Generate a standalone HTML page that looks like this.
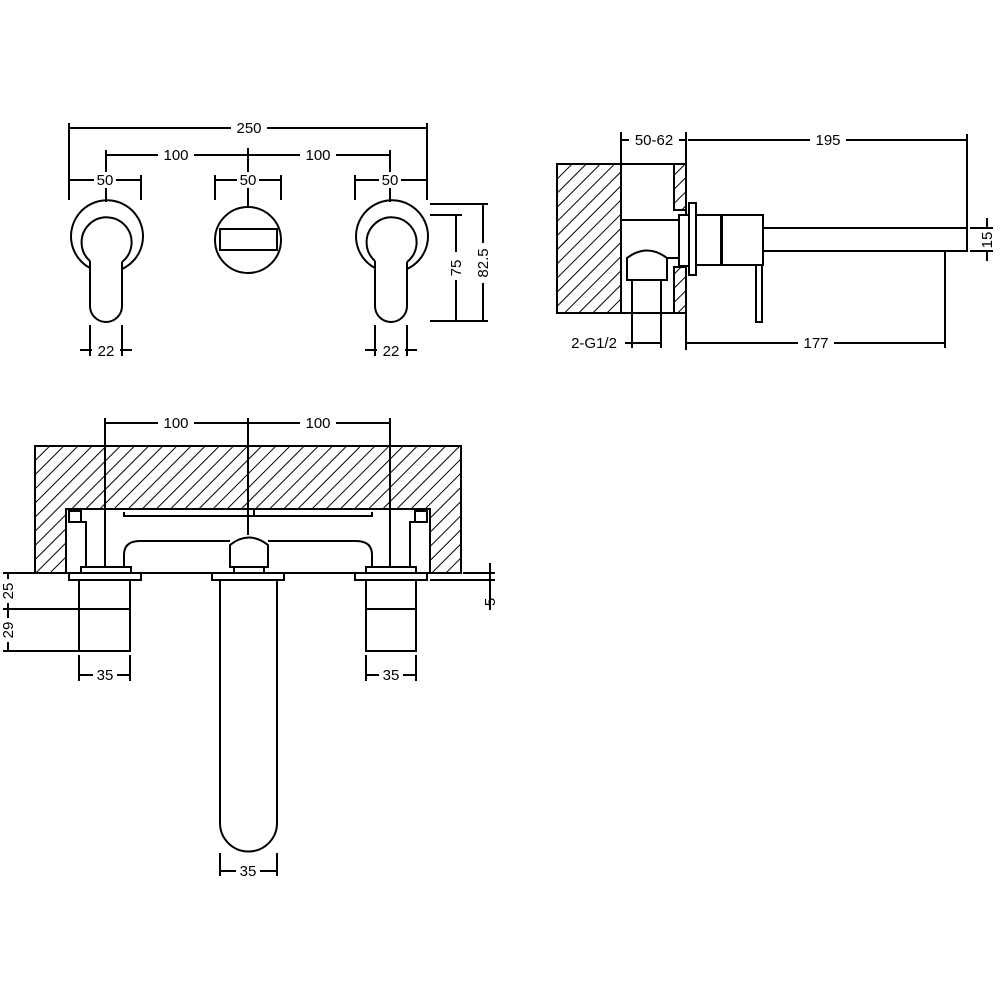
<!DOCTYPE html>
<html><head><meta charset="utf-8"><style>
html,body{margin:0;padding:0;background:#fff}
svg{display:block}
text{font-family:"Liberation Sans",sans-serif;font-size:15px;fill:#000}
</style></head><body>
<svg width="1000" height="1000" viewBox="0 0 1000 1000" xmlns="http://www.w3.org/2000/svg">
<defs>
<pattern id="h" patternUnits="userSpaceOnUse" width="10" height="10" patternTransform="rotate(45)">
<line x1="0" y1="0" x2="0" y2="10" stroke="#000" stroke-width="2"/>
</pattern>
</defs>
<g fill="none" stroke="#000" stroke-width="2">
<line x1="69" y1="128" x2="427" y2="128"/>
<line x1="69" y1="123" x2="69" y2="200"/><line x1="427" y1="123" x2="427" y2="200"/>
<line x1="106" y1="155" x2="390" y2="155"/>
<line x1="106" y1="150" x2="106" y2="202"/><line x1="248" y1="148" x2="248" y2="208"/><line x1="390" y1="150" x2="390" y2="202"/>
<line x1="69" y1="180" x2="141" y2="180"/><line x1="141" y1="175" x2="141" y2="200"/>
<line x1="215" y1="180" x2="281" y2="180"/><line x1="215" y1="175" x2="215" y2="200"/><line x1="281" y1="175" x2="281" y2="200"/>
<line x1="355" y1="180" x2="427" y2="180"/><line x1="355" y1="175" x2="355" y2="200"/>
<path d="M122 269 A36 36 0 1 0 90 268"/>
<path d="M90 261 A25 25 0 1 1 122 262"/>
<path d="M90 261 L90 306 A16 16 0 0 0 122 306 L122 262"/>
<circle cx="248" cy="240" r="33"/>
<rect x="220" y="229" width="57" height="21"/>
<path d="M407 269 A36 36 0 1 0 375 268"/>
<path d="M375 261 A25 25 0 1 1 407 262"/>
<path d="M375 261 L375 306 A16 16 0 0 0 407 306 L407 262"/>
<line x1="90" y1="325" x2="90" y2="356"/><line x1="122" y1="325" x2="122" y2="356"/>
<line x1="80" y1="350" x2="92" y2="350"/><line x1="120" y1="350" x2="132" y2="350"/>
<line x1="375" y1="325" x2="375" y2="356"/><line x1="407" y1="325" x2="407" y2="356"/>
<line x1="365" y1="350" x2="377" y2="350"/><line x1="405" y1="350" x2="417" y2="350"/>
<line x1="430" y1="204" x2="488" y2="204"/><line x1="430" y1="215" x2="462" y2="215"/><line x1="430" y1="321" x2="488" y2="321"/>
<line x1="456" y1="215" x2="456" y2="321"/><line x1="483" y1="204" x2="483" y2="321"/>

<rect x="557" y="164" width="64" height="149" fill="url(#h)"/>
<rect x="674" y="164" width="12" height="46" fill="url(#h)"/>
<rect x="674" y="267" width="12" height="46" fill="url(#h)"/>
<line x1="557" y1="164" x2="686" y2="164"/><line x1="557" y1="313" x2="686" y2="313"/>
<line x1="686" y1="132" x2="686" y2="350"/>
<line x1="621" y1="132" x2="621" y2="313"/>
<line x1="621" y1="220" x2="679" y2="220"/><line x1="667" y1="258" x2="679" y2="258"/>
<path d="M627 258 Q647 243 667 258 L667 280 L627 280 Z"/>
<line x1="632" y1="280" x2="632" y2="348"/><line x1="661" y1="280" x2="661" y2="348"/>
<rect x="679" y="215" width="10" height="51" fill="#fff"/>
<rect x="689" y="203" width="7" height="72" fill="#fff"/>
<rect x="696" y="215" width="25" height="50"/>
<rect x="722" y="215" width="41" height="50"/>
<rect x="756" y="265" width="6" height="57"/>
<rect x="763" y="228" width="204" height="23"/>
<line x1="621" y1="140" x2="686" y2="140"/>
<line x1="688" y1="140" x2="967" y2="140"/><line x1="967" y1="134" x2="967" y2="228"/>
<line x1="686" y1="343" x2="945" y2="343"/><line x1="945" y1="251" x2="945" y2="348"/>
<line x1="607" y1="343" x2="661" y2="343"/>
<line x1="970" y1="228" x2="993" y2="228"/><line x1="970" y1="251" x2="993" y2="251"/>
<line x1="987" y1="218" x2="987" y2="261"/>

<rect x="35" y="446" width="426" height="127" fill="url(#h)"/>
<rect x="66" y="509" width="364" height="64" fill="#fff"/>
<line x1="35" y1="573" x2="66" y2="573"/><line x1="430" y1="573" x2="461" y2="573"/>
<path d="M124 512 L124 516 L372 516 L372 512"/>
<line x1="248" y1="509" x2="248" y2="516"/><line x1="254" y1="509" x2="254" y2="516"/>
<rect x="69" y="511" width="12" height="11"/><rect x="415" y="511" width="12" height="11"/>
<path d="M69 522 L86 522 L86 567"/><path d="M427 522 L410 522 L410 567"/>
<path d="M124 567 L124 555 Q124 541 140 541 L230 541"/>
<path d="M372 567 L372 555 Q372 541 356 541 L268 541"/>
<path d="M230 567 L230 545 Q249 530 268 545 L268 567 Z"/>
<rect x="234" y="567" width="30" height="6"/>
<rect x="81" y="567" width="50" height="6"/><rect x="366" y="567" width="50" height="6"/>
<rect x="69" y="573" width="72" height="7"/><rect x="212" y="573" width="72" height="7"/><rect x="355" y="573" width="72" height="7"/>
<rect x="79" y="580" width="51" height="71"/><line x1="79" y1="609" x2="130" y2="609"/>
<rect x="366" y="580" width="50" height="71"/><line x1="366" y1="609" x2="416" y2="609"/>
<path d="M220 580 L220 823 A28.5 28.5 0 0 0 277 823 L277 580"/>
<line x1="105" y1="423" x2="390" y2="423"/>
<line x1="105" y1="418" x2="105" y2="567"/><line x1="248" y1="418" x2="248" y2="535"/><line x1="390" y1="418" x2="390" y2="567"/>
<line x1="3" y1="573" x2="35" y2="573"/><line x1="3" y1="609" x2="79" y2="609"/><line x1="3" y1="651" x2="79" y2="651"/>
<line x1="8" y1="573" x2="8" y2="651"/>
<line x1="463" y1="573" x2="495" y2="573"/><line x1="430" y1="580" x2="495" y2="580"/>
<line x1="490" y1="563" x2="490" y2="610"/>
<line x1="79" y1="655" x2="79" y2="681"/><line x1="130" y1="655" x2="130" y2="681"/><line x1="79" y1="675" x2="130" y2="675"/>
<line x1="366" y1="655" x2="366" y2="681"/><line x1="416" y1="655" x2="416" y2="681"/><line x1="366" y1="675" x2="416" y2="675"/>
<line x1="220" y1="853" x2="220" y2="876"/><line x1="277" y1="853" x2="277" y2="876"/><line x1="220" y1="871" x2="277" y2="871"/>
</g>
<g text-anchor="middle">
<rect x="231" y="120" width="36" height="16" fill="#fff"/><text x="249" y="133">250</text>
<rect x="158" y="147" width="36" height="16" fill="#fff"/><text x="176" y="160">100</text>
<rect x="300" y="147" width="36" height="16" fill="#fff"/><text x="318" y="160">100</text>
<rect x="94" y="172" width="22" height="16" fill="#fff"/><text x="105" y="185">50</text>
<rect x="237" y="172" width="22" height="16" fill="#fff"/><text x="248" y="185">50</text>
<rect x="379" y="172" width="22" height="16" fill="#fff"/><text x="390" y="185">50</text>
<text x="106" y="356">22</text><text x="391" y="356">22</text>
<rect x="448" y="252" width="16" height="28" fill="#fff"/><text transform="translate(461,268) rotate(-90)">75</text>
<rect x="475" y="243" width="16" height="40" fill="#fff"/><text transform="translate(488,263) rotate(-90)">82.5</text>
<rect x="629" y="132" width="50" height="16" fill="#fff"/><text x="654" y="145">50-62</text>
<rect x="810" y="132" width="36" height="16" fill="#fff"/><text x="828" y="145">195</text>
<rect x="798" y="335" width="36" height="16" fill="#fff"/><text x="816" y="348">177</text>
<rect x="563" y="335" width="62" height="16" fill="#fff"/><text x="594" y="348">2-G1/2</text>
<rect x="980" y="229" width="16" height="21" fill="#fff"/><text transform="translate(992,240) rotate(-90)">15</text>
<rect x="158" y="415" width="36" height="16" fill="#fff"/><text x="176" y="428">100</text>
<rect x="300" y="415" width="36" height="16" fill="#fff"/><text x="318" y="428">100</text>
<rect x="0" y="579" width="16" height="24" fill="#fff"/><text transform="translate(13,591) rotate(-90)">25</text>
<rect x="0" y="618" width="16" height="24" fill="#fff"/><text transform="translate(13,630) rotate(-90)">29</text>
<text transform="translate(495,602) rotate(-90)">5</text>
<rect x="93" y="667" width="24" height="16" fill="#fff"/><text x="105" y="680">35</text>
<rect x="379" y="667" width="24" height="16" fill="#fff"/><text x="391" y="680">35</text>
<rect x="236" y="863" width="24" height="16" fill="#fff"/><text x="248" y="876">35</text>
</g>
</svg>
</body></html>
